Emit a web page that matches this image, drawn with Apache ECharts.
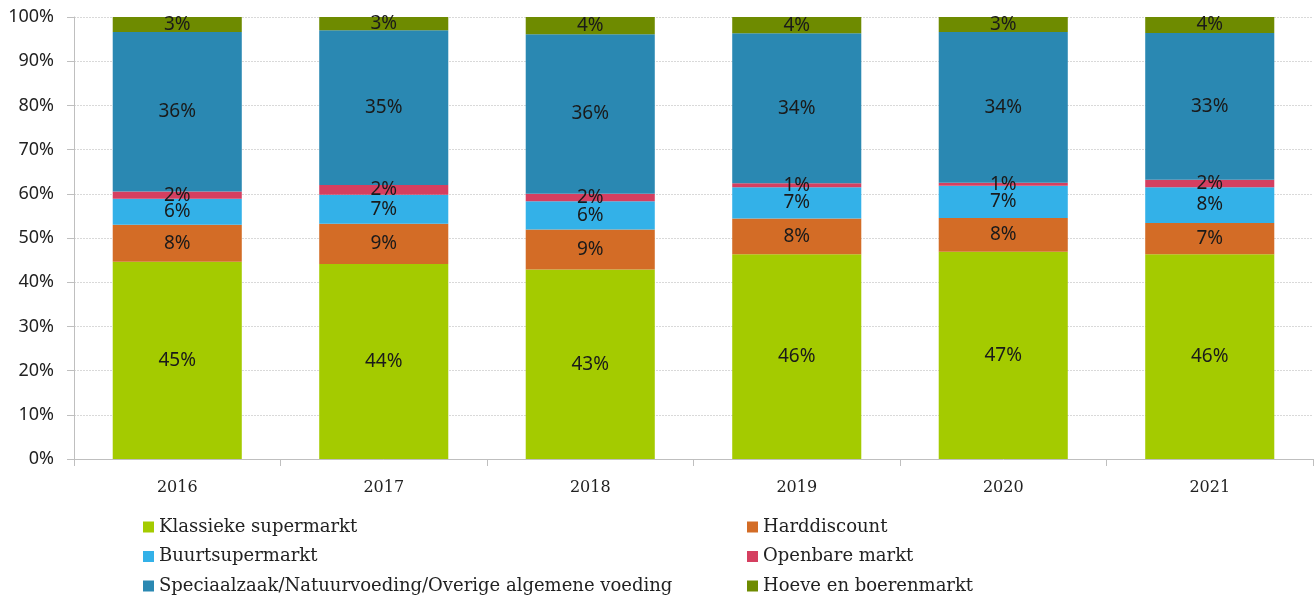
<!DOCTYPE html>
<html>
<head>
<meta charset="utf-8">
<script src="https://cdn.jsdelivr.net/npm/echarts@6/dist/echarts.min.js"></script>
<style>
  html, body { margin: 0; padding: 0; background: #fff; }
  #chart { width: 1315px; height: 598px; }
</style>
</head>
<body>
<div id="chart"></div>
<script>
// Jaren
const years = ['2016', '2017', '2018', '2019', '2020', '2021'];

// Aandelen per kanaal (%)
const klassiekeSupermarkt = [44.6, 44.1, 42.9, 46.3, 46.9, 46.3];
const harddiscount = [8.4, 9.1, 9.0, 8.1, 7.6, 7.1];
const buurtsupermarkt = [5.9, 6.6, 6.4, 7.1, 7.3, 8.1];
const openbareMarkt = [1.6, 2.2, 1.7, 0.9, 0.7, 1.7];
const speciaalzaak = [36.1, 35.0, 36.1, 33.9, 34.1, 33.2];
const hoeve = [3.4, 3.0, 3.9, 3.7, 3.4, 3.6];

const yTicks = [0, 10, 20, 30, 40, 50, 60, 70, 80, 90, 100];

const seriesDefs = [
  { name: 'Klassieke supermarkt', data: klassiekeSupermarkt, color: '#A4CB00' },
  { name: 'Harddiscount', data: harddiscount, color: '#D36C26' },
  { name: 'Buurtsupermarkt', data: buurtsupermarkt, color: '#33B1E8' },
  { name: 'Openbare markt', data: openbareMarkt, color: '#D53F60' },
  { name: 'Speciaalzaak/Natuurvoeding/Overige algemene voeding', data: speciaalzaak, color: '#2A88B2' },
  { name: 'Hoeve en boerenmarkt', data: hoeve, color: '#6E8B00' }
];

const chart = echarts.init(document.getElementById('chart'));

// two legend columns, like the original layout
const legendBase = {
  orient: 'vertical',
  top: 518,
  padding: 0,
  itemGap: 11.5,
  itemWidth: 11,
  itemHeight: 11,
  icon: 'rect',
  textStyle: {
    color: '#222',
    fontFamily: 'DejaVu Serif',
    fontSize: 18,
    lineHeight: 18
  }
};

const option = {
  animation: false,
  backgroundColor: '#fff',
  grid: {
    left: 74,
    right: 2,
    top: 17,
    bottom: 139
  },
  legend: [
    Object.assign({}, legendBase, {
      data: [seriesDefs[0].name, seriesDefs[2].name, seriesDefs[4].name],
      left: 143
    }),
    Object.assign({}, legendBase, {
      data: [seriesDefs[1].name, seriesDefs[3].name, seriesDefs[5].name],
      left: 747
    })
  ],
  xAxis: {
    type: 'category',
    data: years,
    axisLine: { lineStyle: { color: '#BFBFBF' } },
    axisTick: { show: true, length: 7, lineStyle: { color: '#BFBFBF' } },
    axisLabel: {
      color: '#222',
      fontFamily: 'DejaVu Serif',
      fontSize: 16,
      margin: 21
    }
  },
  yAxis: {
    type: 'value',
    min: yTicks[0],
    max: yTicks[yTicks.length - 1],
    interval: 10,
    axisLine: { show: true, lineStyle: { color: '#BFBFBF' } },
    axisTick: { show: true, length: 7, lineStyle: { color: '#BFBFBF' } },
    axisLabel: {
      color: '#222',
      fontFamily: 'Noto Sans',
      fontSize: 18,
      margin: 20,
      formatter: (v) => v + '%'
    },
    splitLine: {
      lineStyle: { color: '#D9D9D9', type: [2, 1] }
    }
  },
  series: seriesDefs.map((s) => ({
    name: s.name,
    type: 'bar',
    stack: 'total',
    barWidth: '62.5%',
    data: s.data,
    itemStyle: { color: s.color },
    label: {
      show: true,
      position: 'inside',
      color: '#1a1a1a',
      fontFamily: 'Noto Sans',
      fontSize: 19,
      formatter: (p) => Math.round(p.value) + '%'
    }
  }))
};

chart.setOption(option);
</script>
</body>
</html>
